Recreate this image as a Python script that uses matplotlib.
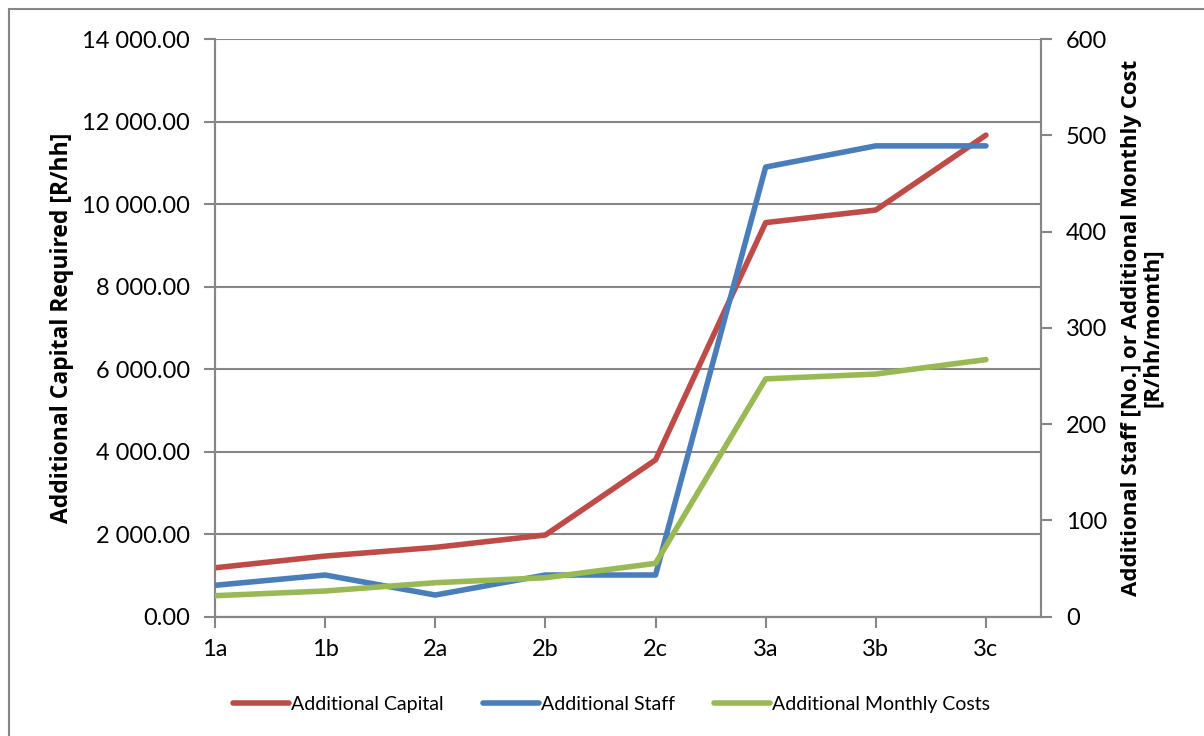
import matplotlib
matplotlib.use("Agg")
import matplotlib.pyplot as plt
from matplotlib.patches import Rectangle
from matplotlib.ticker import FuncFormatter

plt.rcParams['font.family'] = ['Lato', 'DejaVu Sans']

# data
scenarios = ['1a', '1b', '2a', '2b', '2c', '3a', '3b', '3c']
capital = [1185, 1470, 1680, 1980, 3800, 9550, 9855, 11670]      # left axis, R/hh
staff = [32.6, 43.3, 22.5, 43.3, 43.3, 467, 489, 489]          # right axis
monthly = [21.8, 26.7, 35.3, 40.5, 55.4, 247, 252, 267]         # right axis

red = '#be4b48'
blue = '#4a7ebb'
green = '#98b954'
grey = '#868686'

fig = plt.figure(figsize=(12.04, 7.36), dpi=100)
ax = fig.add_axes([215 / 1204, 119.3 / 736, (1041 - 215) / 1204, (616.7 - 39) / 736])
ax2 = ax.twinx()

x = list(range(len(scenarios)))

# lines
l1, = ax.plot(x, capital, color=red, lw=4, solid_capstyle='round', solid_joinstyle='round', zorder=3)
l2, = ax2.plot(x, staff, color=blue, lw=4, solid_capstyle='round', solid_joinstyle='round', zorder=3)
l3, = ax2.plot(x, monthly, color=green, lw=4, solid_capstyle='round', solid_joinstyle='round', zorder=3)

# left axis
ax.set_xlim(0, 7.5)
ax.set_ylim(0, 14000)
ax.set_yticks(range(0, 14001, 2000))
ax.yaxis.set_major_formatter(FuncFormatter(lambda v, p: f"{v:,.2f}".replace(',', ' ')))
ax.grid(axis='y', color=grey, lw=1.5)
ax.set_axisbelow(True)
ax.set_xticks(x)
ax.set_xticklabels(scenarios)
ax.set_ylabel('Additional Capital Required [R/hh]', fontsize=16.5, fontweight='bold',
              family='Open Sans', labelpad=6)

# right axis
ax2.set_ylim(0, 600)
ax2.set_yticks(range(0, 601, 100))
ax2.set_ylabel('Additional Staff [No.] or Additional Monthly Cost\n[R/hh/momth]',
               fontsize=16, fontweight='bold', family='Open Sans', labelpad=10, linespacing=1.0)

for a in (ax, ax2):
    a.tick_params(axis='both', labelsize=17, length=8, width=1.5, color=grey, pad=10)
    a.spines['top'].set_visible(False)
    for side in ('left', 'right', 'bottom'):
        a.spines[side].set_color(grey)
        a.spines[side].set_linewidth(1.5)
ax.tick_params(axis='x', pad=8)
ax2.tick_params(axis='y', pad=10)

# legend under the plot
fig.legend([l1, l2, l3], ['Additional Capital', 'Additional Staff', 'Additional Monthly Costs'],
           loc='center', bbox_to_anchor=(0.508, 0.043), ncol=3, frameon=False,
           fontsize=14, handlelength=2.9, handletextpad=0.1, columnspacing=2.0)

# chart area frame
fig.patches.append(Rectangle((9 / 1204, -0.1), 1.2, 1.1 - 9 / 736, transform=fig.transFigure,
                             fill=False, edgecolor=grey, lw=1.5))

fig.savefig('out.png', dpi=100)
